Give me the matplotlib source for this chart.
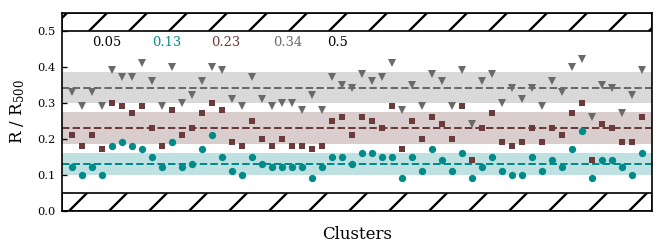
import matplotlib
matplotlib.use("Agg")
import matplotlib.pyplot as plt
import numpy as np

plt.rcParams['font.family'] = ['DejaVu Serif']
plt.rcParams['mathtext.fontset'] = 'dejavuserif'
plt.rcParams['hatch.linewidth'] = 1.4

# ---- data ----
teal_vals = [0.12, 0.10, 0.12, 0.10, 0.18, 0.19, 0.18, 0.17, 0.15, 0.12,
             0.19, 0.12, 0.13, 0.17, 0.21, 0.15, 0.11, 0.10, 0.15, 0.13,
             0.12, 0.12, 0.12, 0.12, 0.09, 0.12, 0.15, 0.15, 0.13, 0.16,
             0.16, 0.15, 0.15, 0.09, 0.15, 0.11, 0.17, 0.14, 0.11, 0.16,
             0.09, 0.12, 0.15, 0.11, 0.10, 0.10, 0.15, 0.11, 0.14, 0.12,
             0.17, 0.22, 0.09, 0.14, 0.14, 0.12, 0.10, 0.16]
brown_vals = [0.21, 0.18, 0.21, 0.17, 0.30, 0.29, 0.27, 0.29, 0.23, 0.18,
              0.28, 0.21, 0.23, 0.27, 0.30, 0.28, 0.19, 0.18, 0.25, 0.20,
              0.18, 0.20, 0.18, 0.18, 0.17, 0.18, 0.25, 0.26, 0.21, 0.26,
              0.25, 0.23, 0.29, 0.17, 0.25, 0.20, 0.26, 0.24, 0.20, 0.29,
              0.14, 0.23, 0.27, 0.19, 0.18, 0.19, 0.23, 0.19, 0.23, 0.21,
              0.27, 0.30, 0.14, 0.24, 0.23, 0.19, 0.19, 0.26]
gray_vals = [0.33, 0.29, 0.33, 0.29, 0.39, 0.37, 0.37, 0.41, 0.36, 0.29,
             0.40, 0.30, 0.32, 0.36, 0.40, 0.39, 0.31, 0.29, 0.37, 0.31,
             0.29, 0.30, 0.30, 0.28, 0.32, 0.28, 0.37, 0.35, 0.34, 0.38,
             0.36, 0.37, 0.41, 0.28, 0.35, 0.29, 0.38, 0.36, 0.29, 0.39,
             0.24, 0.36, 0.38, 0.30, 0.34, 0.31, 0.34, 0.29, 0.36, 0.33,
             0.40, 0.42, 0.26, 0.35, 0.34, 0.27, 0.32, 0.39]

series_means = [0.13, 0.23, 0.34]
series_bands = [(0.10, 0.16), (0.186, 0.274), (0.298, 0.385)]
series_colors = ['#008b8b', '#6b3a3a', '#696969']
series_markers = ['o', 's', 'v']

label_texts = ['0.05', '0.13', '0.23', '0.34', '0.5']
label_colors = ['black', '#008b8b', '#6b3a3a', '#696969', 'black']
label_x = [3.47, 9.47, 15.4, 21.6, 26.6]

hatch_regions = [(0.0, 0.05), (0.5, 0.55)]
ytick_vals = [0.0, 0.1, 0.2, 0.3, 0.4, 0.5]
xtick_vals = [0, 10, 20, 30, 40, 50]

# ---- figure ----
fig = plt.figure(figsize=(664/120, 252/120), dpi=120)
ax = fig.add_axes([0.0938, 0.1639, 0.8877, 0.7857])

n = len(teal_vals)
x = np.arange(n)
ax.set_xlim(-1, n)
ax.set_ylim(0, 0.55)

for vals, mean, band, col, mk in zip([teal_vals, brown_vals, gray_vals],
                                     series_means, series_bands,
                                     series_colors, series_markers):
    ax.axhspan(band[0], band[1], color=col, alpha=0.25, lw=0, zorder=1)
    ax.axhline(mean, color=col, ls='--', lw=1.2, zorder=2)
    ms = 3.8 if mk == 's' else 4.4
    ax.plot(x, vals, ls='none', marker=mk, color=col, ms=ms, mew=0, zorder=3)

for lo, hi in hatch_regions:
    ax.axhspan(lo, hi, facecolor='white', edgecolor='black', hatch='/',
               lw=1.0, zorder=4)

for t, c, xx in zip(label_texts, label_colors, label_x):
    ax.text(xx, 0.467, t, color=c, ha='center', va='center', fontsize=7.8,
            zorder=5)

ax.set_yticks(ytick_vals)
ax.set_yticklabels([f"{v:.1f}" for v in ytick_vals])
ax.set_xticks(xtick_vals)
ax.set_xticklabels([])
ax.tick_params(axis='both', direction='in', length=3, width=0.8,
               labelsize=6.8, pad=4)
for s in ax.spines.values():
    s.set_linewidth(1.0)
    s.set_zorder(6)

ax.set_xlabel('Clusters', fontsize=10, labelpad=5)
ax.set_ylabel(r'R / R$_{500}$', fontsize=10, labelpad=6)

fig.savefig('out.png', dpi=120)
